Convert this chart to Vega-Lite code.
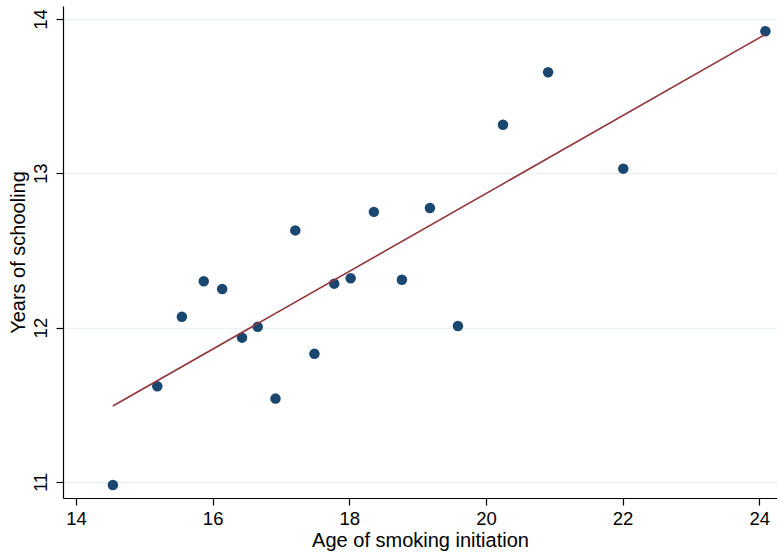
{
  "$schema": "https://vega.github.io/schema/vega-lite/v6.json",
  "autosize": "none",
  "width": 714,
  "height": 492,
  "padding": {"left": 63, "top": 6, "right": 0, "bottom": 55},
  "background": "white",
  "config": {
    "view": {"stroke": null},
    "font": "Liberation Sans",
    "axis": {
      "labelFont": "Liberation Sans",
      "titleFont": "Liberation Sans",
      "labelFontSize": 18.5,
      "titleFontSize": 20,
      "titleFontWeight": "normal",
      "labelColor": "#000000",
      "titleColor": "#000000",
      "domainColor": "#000000",
      "tickColor": "#000000",
      "domainWidth": 1.2,
      "tickWidth": 1.2,
      "tickSize": 7,
      "gridColor": "#eaf2f3",
      "gridWidth": 1.5
    }
  },
  "data": {
    "values": [
      {"age": 14.54, "school": 10.98},
      {"age": 15.19, "school": 11.62},
      {"age": 15.55, "school": 12.07},
      {"age": 15.87, "school": 12.30},
      {"age": 16.14, "school": 12.25},
      {"age": 16.43, "school": 11.935},
      {"age": 16.66, "school": 12.005},
      {"age": 16.92, "school": 11.54},
      {"age": 17.21, "school": 12.63},
      {"age": 17.49, "school": 11.83},
      {"age": 17.78, "school": 12.285},
      {"age": 18.02, "school": 12.32},
      {"age": 18.36, "school": 12.75},
      {"age": 18.77, "school": 12.31},
      {"age": 19.18, "school": 12.775},
      {"age": 19.59, "school": 12.01},
      {"age": 20.25, "school": 13.315},
      {"age": 20.91, "school": 13.655},
      {"age": 22.01, "school": 13.03},
      {"age": 24.09, "school": 13.92}
    ]
  },
  "encoding": {
    "x": {
      "field": "age",
      "type": "quantitative",
      "scale": {"domain": [13.81, 24.26], "nice": false, "zero": false},
      "axis": {
        "title": "Age of smoking initiation",
        "values": [14, 16, 18, 20, 22, 24],
        "grid": false,
        "labelPadding": 4,
        "titlePadding": 3
      }
    },
    "y": {
      "field": "school",
      "type": "quantitative",
      "scale": {"domain": [10.896, 14.084], "nice": false, "zero": false},
      "axis": {
        "title": "Years of schooling",
        "values": [11, 12, 13, 14],
        "grid": true,
        "labelAngle": -90,
        "labelAlign": "center",
        "labelBaseline": "bottom",
        "labelPadding": 6,
        "titlePadding": 3
      }
    }
  },
  "layer": [
    {
      "mark": {"type": "point", "filled": true, "opacity": 1, "size": 110, "color": "#1a476f"}
    },
    {
      "transform": [{"regression": "school", "on": "age"}],
      "mark": {"type": "line", "color": "#90353b", "strokeWidth": 1.6}
    }
  ]
}
